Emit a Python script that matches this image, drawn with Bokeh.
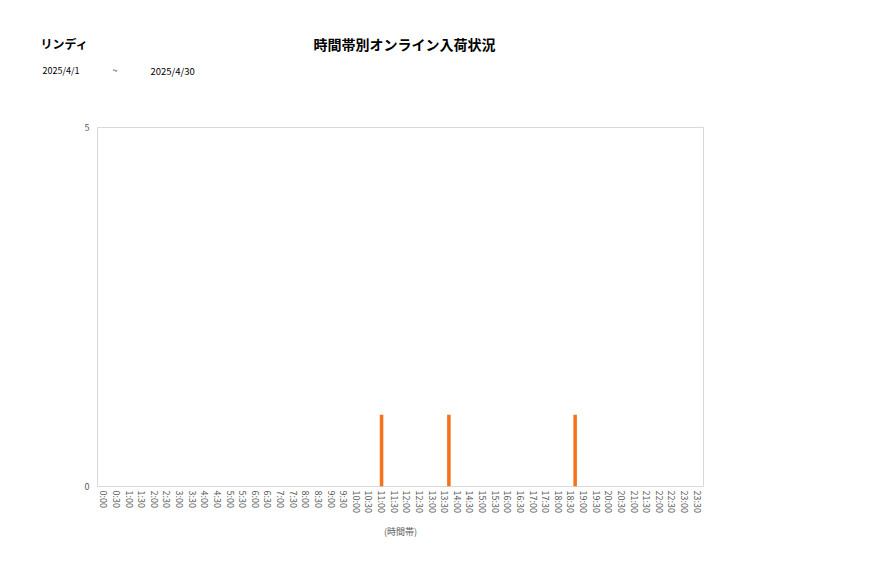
from bokeh.plotting import figure
from bokeh.models import FactorRange, Range1d, FixedTicker, ColumnDataSource
from bokeh.core.properties import value
from bokeh.embed import file_html
from bokeh.resources import INLINE

time_slots = ["0:00", "0:30", "1:00", "1:30", "2:00", "2:30", "3:00", "3:30",
              "4:00", "4:30", "5:00", "5:30", "6:00", "6:30", "7:00", "7:30",
              "8:00", "8:30", "9:00", "9:30", "10:00", "10:30", "11:00", "11:30",
              "12:00", "12:30", "13:00", "13:30", "14:00", "14:30", "15:00", "15:30",
              "16:00", "16:30", "17:00", "17:30", "18:00", "18:30", "19:00", "19:30",
              "20:00", "20:30", "21:00", "21:30", "22:00", "22:30", "23:00", "23:30"]
arrival_times = ["11:00", "13:40", "18:40"]
arrival_counts = [1, 1, 1]
y_ticks = [0, 5]
store_name = "リンディ"
chart_title = "時間帯別オンライン入荷状況"
date_from = "2025/4/1"
date_sep = "~"
date_to = "2025/4/30"
x_axis_title = "(時間帯)"

FONT = "Noto Sans CJK JP"
TXT = "#595959"
W, H = 861, 562
FL, FR, FT, FB = 97, 703, 127, 486   # frame edges in page pixels
SLOT_PX = (FR - FL) / len(time_slots)

def time_to_axis(t):
    hh, mm = t.split(":")
    # position on the categorical axis (slot centres sit at n + 0.5)
    return int(hh) * 2 + int(mm) / 30 + 0.5

src = ColumnDataSource(dict(x=[time_to_axis(t) for t in arrival_times], y=arrival_counts))
p = figure(width=W, height=H, x_range=FactorRange(*time_slots), y_range=Range1d(0, 5),
           output_backend="svg", toolbar_location=None,
           min_border_left=FL, min_border_right=W - FR, min_border_top=FT,
           min_border_bottom=H - FB)
p.extra_y_ranges = {"page": Range1d(FB, FT)}
p.vbar(x="x", top="y", width=0.28, source=src, color="#f4721c", line_color=None)

p.xgrid.visible = False
p.ygrid.visible = False
p.outline_line_color = "#d9d9d9"
p.outline_line_width = 1

p.yaxis.ticker = FixedTicker(ticks=y_ticks)
for ax in (p.xaxis[0], p.yaxis[0]):
    ax.axis_line_color = None
    ax.major_tick_line_color = None
    ax.minor_tick_line_color = None
    ax.major_tick_out = 0
    ax.major_tick_in = 0
    ax.major_label_text_font = FONT
    ax.major_label_text_font_size = "9px"
    ax.major_label_text_color = TXT
p.yaxis.major_label_standoff = 8
p.xaxis.major_label_standoff = 4
p.xaxis.major_label_orientation = "vertical"
p.xaxis.axis_label = x_axis_title
p.xaxis.axis_label_text_font = FONT
p.xaxis.axis_label_text_font_size = "9px"
p.xaxis.axis_label_text_font_style = "normal"
p.xaxis.axis_label_text_color = TXT
p.xaxis.axis_label_standoff = 9

def head_text(txt, px, py, size, style="normal", align="left"):
    p.text(x=[(px - FL) / SLOT_PX], y=[py], text=[txt], text_font=value(FONT),
           text_font_size=size, text_font_style=style, text_align=align,
           text_baseline="middle", text_color="#000000", y_range_name="page",
           level="annotation")

head_text(store_name, 40, 43, "12px", "bold")
head_text(chart_title, 404, 43, "14px", "bold", "center")
head_text(date_from, 42, 70, "9px")
head_text(date_sep, 112, 70, "9px")
head_text(date_to, 150, 70, "9.5px")

open("out.html", "w").write(file_html(p, INLINE))
